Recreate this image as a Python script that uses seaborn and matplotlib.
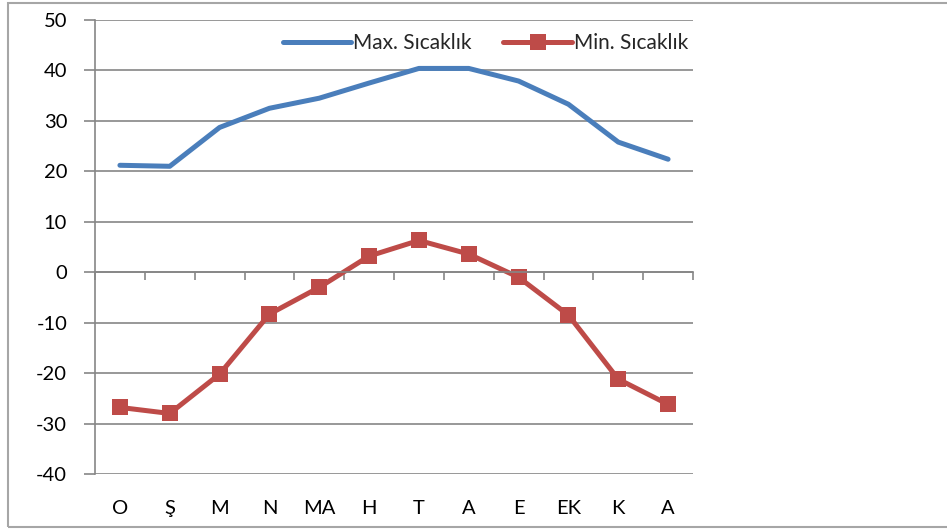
import numpy as np
import pandas as pd
import matplotlib.pyplot as plt
import seaborn as sns
from matplotlib.patches import Rectangle

# dados
aylar = ["O", "Ş", "M", "N", "MA", "H", "T", "A", "E", "EK", "K", "A"]
max_sicaklik = [21.2, 21.0, 28.7, 32.5, 34.5, 37.5, 40.4, 40.4, 37.9, 33.3, 25.8, 22.4]
min_sicaklik = [-26.8, -28.0, -20.2, -8.3, -3.0, 3.2, 6.3, 3.6, -1.0, -8.5, -21.2, -26.2]

df = pd.DataFrame({
    "idx": np.arange(len(aylar)),
    "Max. Sıcaklık": max_sicaklik,
    "Min. Sıcaklık": min_sicaklik,
})

sns.set_theme(style="white")
plt.rcParams["font.family"] = ["Lato", "DejaVu Sans"]
plt.rcParams["axes.unicode_minus"] = False

AZUL = "#4A7EBB"
VERMELHO = "#BE4B48"
CINZA = "#868686"

fig = plt.figure(figsize=(9.47, 5.30), dpi=100)
ax = fig.add_axes([95 / 947, 1 - 474 / 530, 598 / 947, 454 / 530])

sns.lineplot(data=df, x="idx", y="Max. Sıcaklık", ax=ax, color=AZUL,
             linewidth=3.6, label="Max. Sıcaklık", solid_capstyle="round")
sns.lineplot(data=df, x="idx", y="Min. Sıcaklık", ax=ax, color=VERMELHO,
             linewidth=3.6, marker="s", markersize=12, markeredgewidth=0,
             label="Min. Sıcaklık")

ax.set_xlim(-0.5, len(aylar) - 0.5)
ax.set_ylim(-40, 50)
ax.set_yticks(range(-40, 51, 10))
ax.yaxis.grid(True, color=CINZA, linewidth=1.2)
ax.set_xlabel("")
ax.set_ylabel("")

# eixo x cruzando em 0, marcas entre as categorias
ax.spines["bottom"].set_position(("data", 0))
ax.spines["top"].set_visible(False)
ax.spines["right"].set_visible(False)
for s in ["left", "bottom"]:
    ax.spines[s].set_color(CINZA)
    ax.spines[s].set_linewidth(1.2)
ax.set_xticks(np.arange(-0.5, len(aylar), 1.0))
ax.set_xticklabels([])
ax.tick_params(axis="x", direction="out", length=6, width=1.2, color=CINZA, bottom=True)
ax.tick_params(axis="y", direction="out", length=8, width=1.2, color=CINZA,
               left=True, labelsize=14.5, pad=12, labelcolor="black")

# rótulos das categorias embaixo da área do gráfico
sec = ax.secondary_xaxis("bottom")
sec.set_xticks(df["idx"], aylar)
sec.tick_params(length=0, pad=19, labelsize=14.5, labelcolor="black")
sec.spines["bottom"].set_visible(False)

leg = ax.legend(loc="center", bbox_to_anchor=(0.653, 0.949), ncol=2, frameon=False,
                fontsize=15, handlelength=3.3, handletextpad=0.1, columnspacing=1.5)

# moldura do gráfico
fig.patches.append(Rectangle((8 / 947, 1 - 527 / 530), 960 / 947, 524 / 530,
                             transform=fig.transFigure, fill=False,
                             edgecolor="#A6A6A6", linewidth=1.5))

plt.savefig("out.png", dpi=100)
